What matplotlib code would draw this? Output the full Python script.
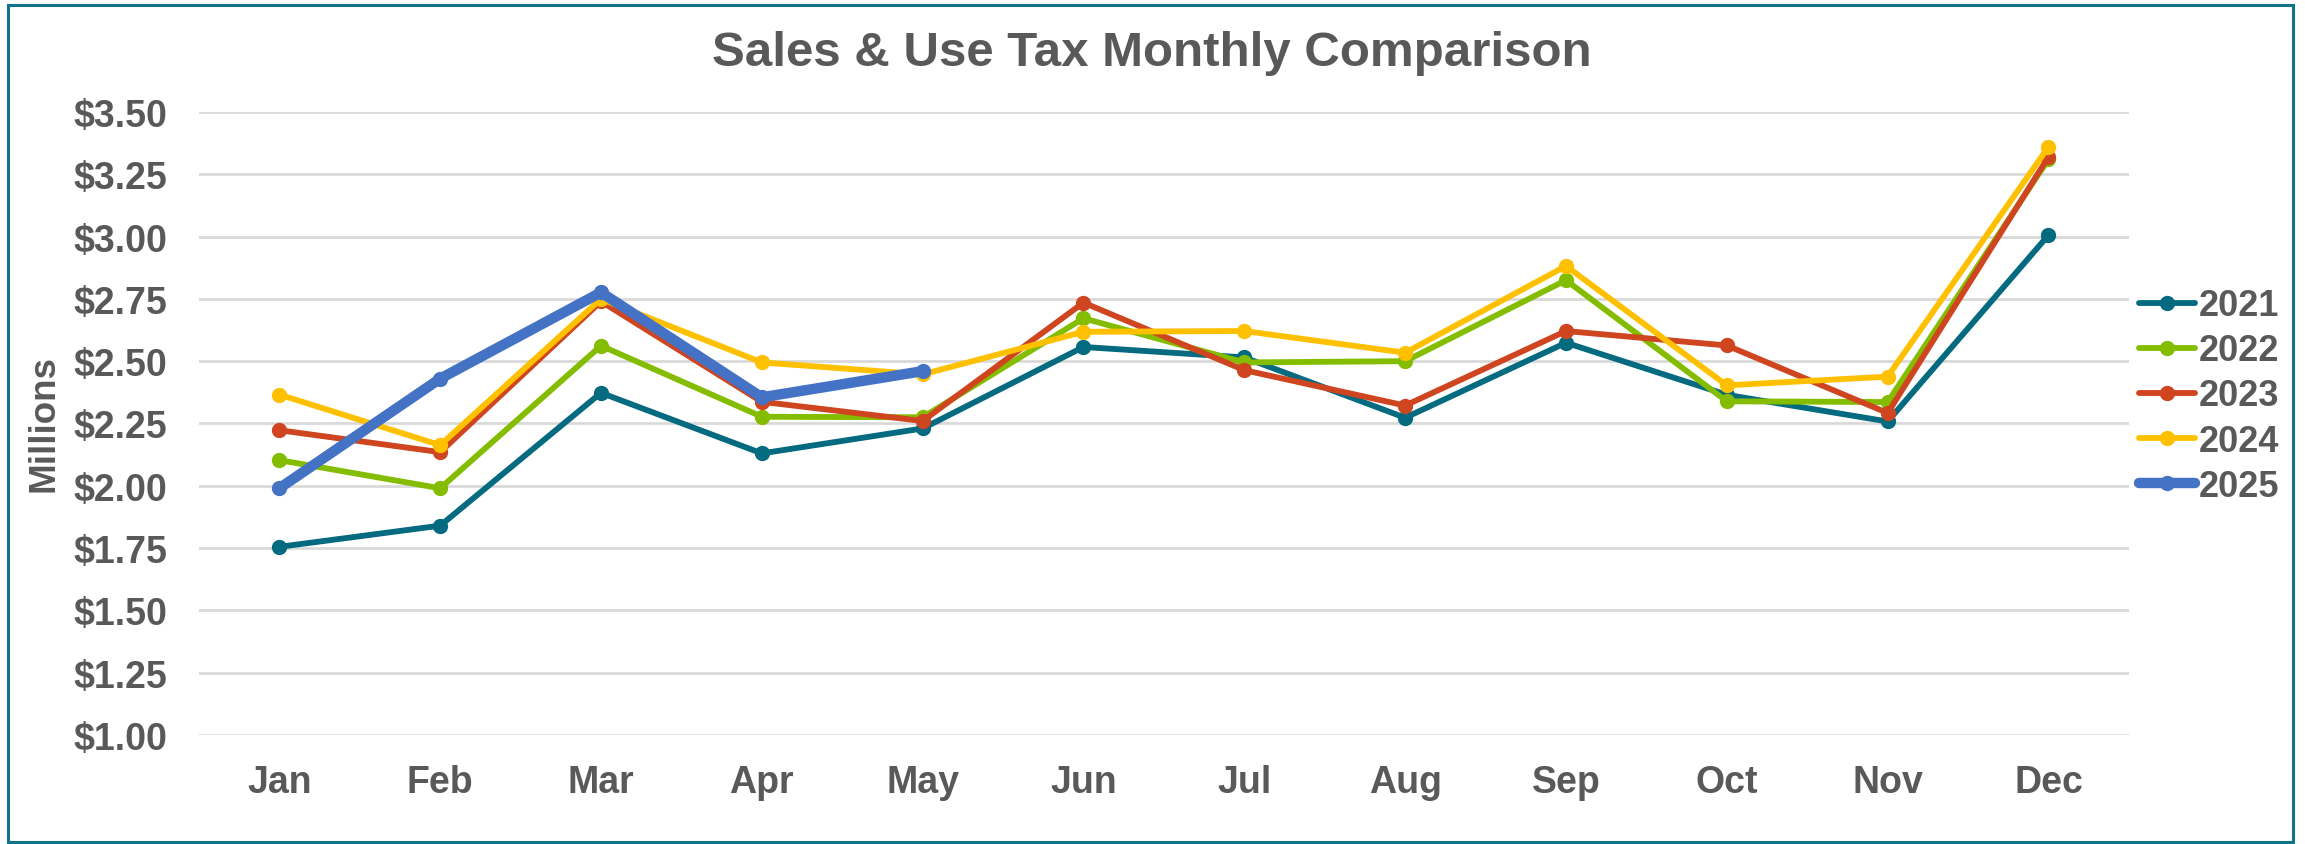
import matplotlib
matplotlib.use("Agg")
import matplotlib.pyplot as plt
from matplotlib.patches import Rectangle
from matplotlib.ticker import FuncFormatter, MultipleLocator

plt.rcParams['font.family'] = ['Liberation Sans', 'DejaVu Sans']
plt.rcParams['font.weight'] = 'bold'

months = ['Jan', 'Feb', 'Mar', 'Apr', 'May', 'Jun',
          'Jul', 'Aug', 'Sep', 'Oct', 'Nov', 'Dec']

# sales & use tax, millions of dollars
sales_2021 = [1.755, 1.84, 2.373, 2.13, 2.23, 2.557,
              2.515, 2.273, 2.574, 2.365, 2.258, 3.006]
sales_2022 = [2.103, 1.99, 2.562, 2.277, 2.275, 2.672,
              2.495, 2.50, 2.825, 2.339, 2.336, 3.31]
sales_2023 = [2.223, 2.135, 2.74, 2.337, 2.26, 2.735,
              2.464, 2.322, 2.621, 2.563, 2.292, 3.32]
sales_2024 = [2.366, 2.163, 2.75, 2.495, 2.447, 2.618,
              2.621, 2.534, 2.882, 2.403, 2.438, 3.36]
sales_2025 = [1.99, 2.43, 2.776, 2.355, 2.46]

years = ['2021', '2022', '2023', '2024', '2025']
colors = ['#036A80', '#84BD00', '#CF4520', '#FFC000', '#4472C4']
TEXT = '#595959'


def main():
    fig = plt.figure(figsize=(23.05, 8.45), dpi=100)
    ax = fig.add_axes([0.0863, 0.129, 0.8373, 0.7373])

    series = [sales_2021, sales_2022, sales_2023, sales_2024, sales_2025]
    for name, vals, col in zip(years, series, colors):
        lw = 7.5 if name == '2025' else 4.2
        ax.plot(months[:len(vals)], vals, color=col, lw=lw,
                marker='o', markersize=10, label=name,
                solid_capstyle='round', zorder=3)

    ax.set_xlim(-0.5, 11.5)
    ax.set_ylim(1.0, 3.5)
    ax.yaxis.set_major_locator(MultipleLocator(0.25))
    ax.yaxis.set_major_formatter(FuncFormatter(lambda v, p: f'${v:.2f}'))
    ax.grid(axis='y', color='#D9D9D9', lw=2, zorder=0)
    for s in ax.spines.values():
        s.set_visible(False)
    ax.tick_params(axis='both', length=0, labelsize=27, labelcolor=TEXT)
    ax.tick_params(axis='x', pad=21)
    ax.tick_params(axis='y', pad=23)

    fig.text(1152 / 2305, 1 - 54 / 845, 'Sales & Use Tax Monthly Comparison',
             ha='center', va='center', fontsize=35.5, color=TEXT,
             fontweight='bold')
    fig.text(44 / 2305, 1 - 424 / 845, 'Millions', rotation=90,
             ha='center', va='center', fontsize=26.5, color=TEXT,
             fontweight='bold')

    leg = fig.legend(loc='center left',
                     bbox_to_anchor=(2139 / 2305, 1 - 397 / 845),
                     frameon=False, fontsize=26, labelcolor=TEXT,
                     handlelength=1.55, handletextpad=0.1,
                     labelspacing=0.28, borderpad=0, borderaxespad=0)
    for t in leg.get_texts():
        t.set_fontweight('bold')

    # teal frame round the chart
    fig.patches.append(Rectangle((8 / 2305, 0.002), 2285 / 2305, 1 - 6 / 845 - 0.002,
                                 transform=fig.transFigure, fill=False,
                                 edgecolor='#127489', lw=2.2))

    fig.savefig('out.png', dpi=100)


if __name__ == '__main__':
    main()
